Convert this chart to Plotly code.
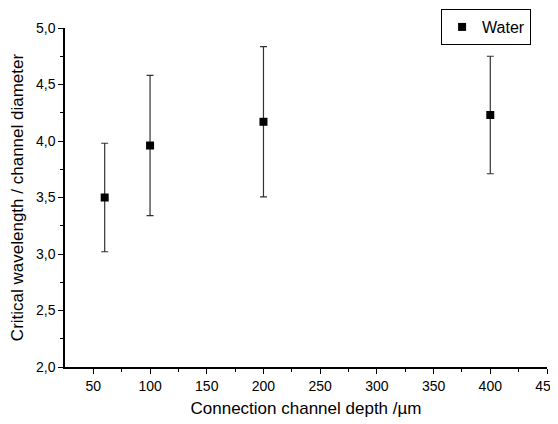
import plotly.graph_objects as go

depth = [60, 100, 200, 400]
ratio = [3.50, 3.96, 4.17, 4.23]
err = [0.48, 0.62, 0.665, 0.52]
series_name = "Water"
x_title = "Connection channel depth /µm"
y_title = "Critical wavelength / channel diameter"

font_family = "Liberation Sans, Arial, sans-serif"

fig = go.Figure()
fig.add_trace(go.Scatter(
    x=depth, y=ratio, mode="markers", name=series_name,
    marker=dict(symbol="square", size=8, color="black"),
    error_y=dict(type="data", array=err, visible=True, color="#333333",
                 thickness=1.2, width=3.5),
))

fig.update_layout(
    width=550, height=416,
    margin=dict(l=57, r=11, t=20, b=57, autoexpand=False),
    paper_bgcolor="white", plot_bgcolor="white",
    separators=", ",
    font=dict(family=font_family, color="black", size=14),
    showlegend=True,
    legend=dict(x=0.967, xanchor="right", y=1.056, yanchor="top",
                bordercolor="black", borderwidth=1,
                bgcolor="white", font=dict(size=16),
                itemwidth=30, tracegroupgap=0),
    xaxis=dict(
        range=[25, 450], tickvals=[50, 100, 150, 200, 250, 300, 350, 400, 450],
        ticklabeloverflow="allow",
        showline=True, linecolor="black", linewidth=1.5, mirror=False,
        ticks="outside", ticklen=5, tickwidth=1.2, tickcolor="black",
        minor=dict(tickvals=[75, 125, 175, 225, 275, 325, 375, 425],
                   ticks="outside", ticklen=3, tickwidth=1.2, tickcolor="black"),
        showgrid=False, zeroline=False,
        title=dict(text=x_title, font=dict(size=17), standoff=10),
        tickfont=dict(size=14),
    ),
    yaxis=dict(
        range=[2.0, 5.0], tickvals=[2.0, 2.5, 3.0, 3.5, 4.0, 4.5, 5.0],
        tickformat=".1f",
        showline=True, linecolor="black", linewidth=1.5, mirror=False,
        ticks="outside", ticklen=5, tickwidth=1.2, tickcolor="black",
        minor=dict(tickvals=[2.25, 2.75, 3.25, 3.75, 4.25, 4.75],
                   ticks="outside", ticklen=3, tickwidth=1.2, tickcolor="black"),
        showgrid=False, zeroline=False,
        title=dict(text=y_title, font=dict(size=17), standoff=8),
        tickfont=dict(size=14),
    ),
)

fig.write_html("out.html")
